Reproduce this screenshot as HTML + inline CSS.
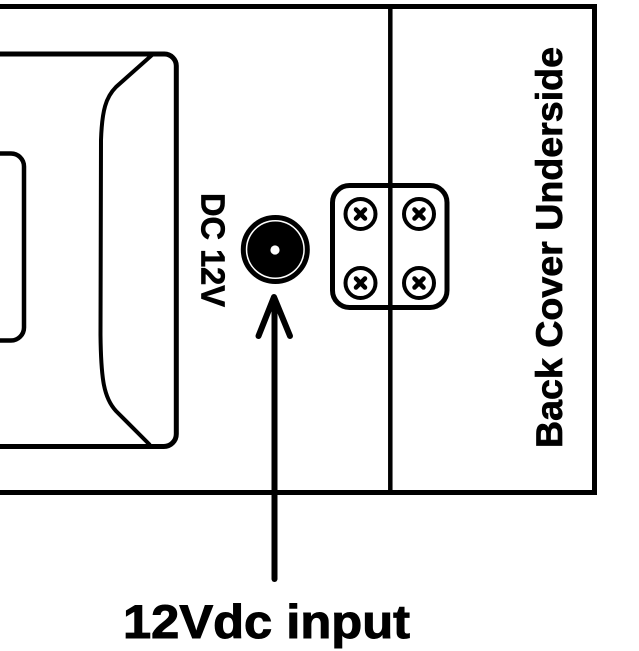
<!DOCTYPE html>
<html>
<head>
<meta charset="utf-8">
<style>
  html, body { margin: 0; padding: 0; background: #fff; }
  body { width: 639px; height: 651px; overflow: hidden; }
  svg { display: block; }
</style>
</head>
<body>
<svg width="639" height="651" viewBox="0 0 639 651" xmlns="http://www.w3.org/2000/svg">
  <rect x="0" y="0" width="639" height="651" fill="#fff"/>

  <!-- Outer back cover frame (open on left) -->
  <path d="M -10 6.5 H 594.5 V 492.5 H -10" fill="none" stroke="#000" stroke-width="5"/>
  <!-- Vertical divider -->
  <line x1="390.3" y1="4" x2="390.3" y2="495" stroke="#000" stroke-width="4.5"/>

  <!-- Large rounded shape -->
  <path d="M -10 54 H 164 A 12 12 0 0 1 176.3 66.5 V 434 A 12.5 12.5 0 0 1 163.5 446.5 H -10" fill="none" stroke="#000" stroke-width="5"/>

  <!-- Inner curved contour -->
  <path d="M 152 55 L 116 87 C 106 97 102 110 101 140 L 100.5 335 C 101 380 104 398 116 411 L 150 445" fill="none" stroke="#000" stroke-width="4"/>

  <!-- Small rounded rect at left -->
  <path d="M -10 153.5 H 11 A 13 13 0 0 1 24 166.5 V 327.5 A 13 13 0 0 1 11 340.5 H -10" fill="none" stroke="#000" stroke-width="4.5"/>

  <!-- DC jack -->
  <circle cx="275.3" cy="249.5" r="32" fill="none" stroke="#000" stroke-width="5"/>
  <circle cx="275.3" cy="249.5" r="28" fill="#000"/>
  <circle cx="275" cy="250" r="4.6" fill="#fff"/>

  <!-- Arrow -->
  <line x1="274.5" y1="300" x2="274.5" y2="579" stroke="#000" stroke-width="6" stroke-linecap="round"/>
  <polyline points="258.5,336 274,297 290,336" fill="none" stroke="#000" stroke-width="6" stroke-linecap="round" stroke-linejoin="round"/>

  <!-- Screw plate -->
  <rect x="332.5" y="185.5" width="114.5" height="122" rx="17" ry="17" fill="none" stroke="#000" stroke-width="5"/>
  <g fill="none" stroke="#000">
    <circle cx="360.5" cy="214" r="15" stroke-width="4"/>
    <circle cx="419" cy="214" r="15" stroke-width="4"/>
    <circle cx="360.5" cy="283" r="15" stroke-width="4"/>
    <circle cx="419" cy="283" r="15" stroke-width="4"/>
  </g>
  <g stroke="#000" stroke-width="4.5" stroke-linecap="round">
    <line x1="356" y1="209.5" x2="365" y2="218.5"/><line x1="365" y1="209.5" x2="356" y2="218.5"/>
    <line x1="414.5" y1="209.5" x2="423.5" y2="218.5"/><line x1="423.5" y1="209.5" x2="414.5" y2="218.5"/>
    <line x1="356" y1="278.5" x2="365" y2="287.5"/><line x1="365" y1="278.5" x2="356" y2="287.5"/>
    <line x1="414.5" y1="278.5" x2="423.5" y2="287.5"/><line x1="423.5" y1="278.5" x2="414.5" y2="287.5"/>
  </g>

  <!-- Texts -->
  <text transform="translate(201.5,250) rotate(90)" x="0" y="0" text-anchor="middle"
        font-family="'Liberation Sans', 'DejaVu Sans', sans-serif" font-weight="bold" font-size="33"
        textLength="114" lengthAdjust="spacingAndGlyphs" fill="#000" stroke="#000" stroke-width="0.7">DC 12V</text>

  <text transform="translate(562,247.5) rotate(-90)" x="0" y="0" text-anchor="middle"
        font-family="'Liberation Sans', 'DejaVu Sans', sans-serif" font-weight="bold" font-size="37"
        textLength="401" lengthAdjust="spacingAndGlyphs" fill="#000" stroke="#000" stroke-width="0.7">Back Cover Underside</text>

  <text x="123" y="638" font-family="'Liberation Sans', 'DejaVu Sans', sans-serif" font-weight="bold" font-size="47.5"
        textLength="287" lengthAdjust="spacingAndGlyphs" fill="#000" stroke="#000" stroke-width="1">12Vdc input</text>
</svg>
</body>
</html>
